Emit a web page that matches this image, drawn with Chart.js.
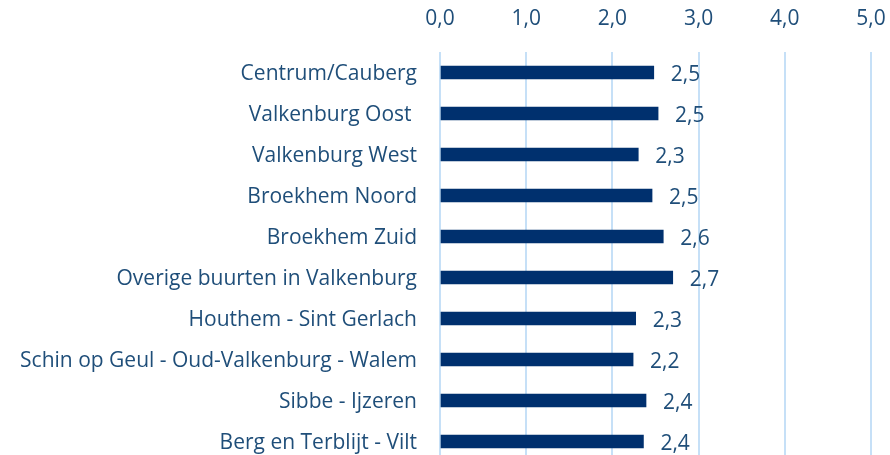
<!DOCTYPE html>
<html>
<head>
<meta charset="utf-8">
<script src="https://cdn.jsdelivr.net/npm/chart.js@4.4.1/dist/chart.umd.min.js"></script>
<style>
  html, body { margin: 0; padding: 0; background: #fff; overflow: hidden; }
  canvas { display: block; }
</style>
</head>
<body>
<canvas id="buurtChart" width="890" height="462"></canvas>
<script>
// buurten en gemiddelde score per buurt
const buurten = [
    'Centrum/Cauberg',
    'Valkenburg Oost ',
    'Valkenburg West',
    'Broekhem Noord',
    'Broekhem Zuid',
    'Overige buurten in Valkenburg',
    'Houthem - Sint Gerlach',
    'Schin op Geul - Oud-Valkenburg - Walem',
    'Sibbe - Ijzeren',
    'Berg en Terblijt - Vilt'
];
const scores = [2.48, 2.53, 2.30, 2.46, 2.59, 2.70, 2.27, 2.24, 2.39, 2.36];
const schaalTicks = [0, 1, 2, 3, 4, 5];

const tekstKleur = '#1F4E79';
const balkKleur = '#00306E';
const lettertype = { family: "'Open Sans', sans-serif", size: 21 };

function komma(v) {
    return v.toFixed(1).replace('.', ',');
}

// waarde rechts naast elke balk
const waardeLabels = {
    id: 'waardeLabels',
    afterDatasetsDraw(chart) {
        const ctx = chart.ctx;
        const meta = chart.getDatasetMeta(0);
        ctx.save();
        ctx.font = "21px 'Open Sans', sans-serif";
        ctx.fillStyle = tekstKleur;
        ctx.textAlign = 'left';
        ctx.textBaseline = 'middle';
        meta.data.forEach((bar, i) => {
            ctx.fillText(komma(scores[i]), bar.x + 17, bar.y + 3);
        });
        ctx.restore();
    }
};

new Chart(document.getElementById('buurtChart'), {
    type: 'bar',
    data: {
        labels: buurten,
        datasets: [{
            data: scores,
            backgroundColor: balkKleur,
            barThickness: 13
        }]
    },
    options: {
        indexAxis: 'y',
        responsive: false,
        animation: false,
        devicePixelRatio: 1,
        layout: { padding: { top: 0, right: 19, bottom: 0, left: 0 } },
        plugins: {
            legend: { display: false },
            tooltip: { enabled: false }
        },
        scales: {
            x: {
                position: 'top',
                min: 0,
                max: 5,
                afterBuildTicks: (scale) => {
                    scale.ticks = schaalTicks.map(v => ({ value: v }));
                },
                afterFit: (scale) => {
                    scale.height = 52;
                    scale.paddingLeft = 0;
                    scale.paddingRight = 0;
                },
                grid: { color: '#C6E0F7', lineWidth: 2, drawTicks: false },
                border: { display: false },
                ticks: {
                    color: tekstKleur,
                    font: lettertype,
                    padding: 20,
                    callback: (v) => komma(v)
                }
            },
            y: {
                afterFit: (scale) => {
                    scale.width = 440;
                    scale.paddingTop = 0;
                    scale.paddingBottom = 0;
                },
                grid: { display: false, drawTicks: false },
                border: { display: false },
                ticks: {
                    color: tekstKleur,
                    font: lettertype,
                    padding: 23,
                    labelOffset: 1.5
                }
            }
        }
    },
    plugins: [waardeLabels]
});
</script>
</body>
</html>
